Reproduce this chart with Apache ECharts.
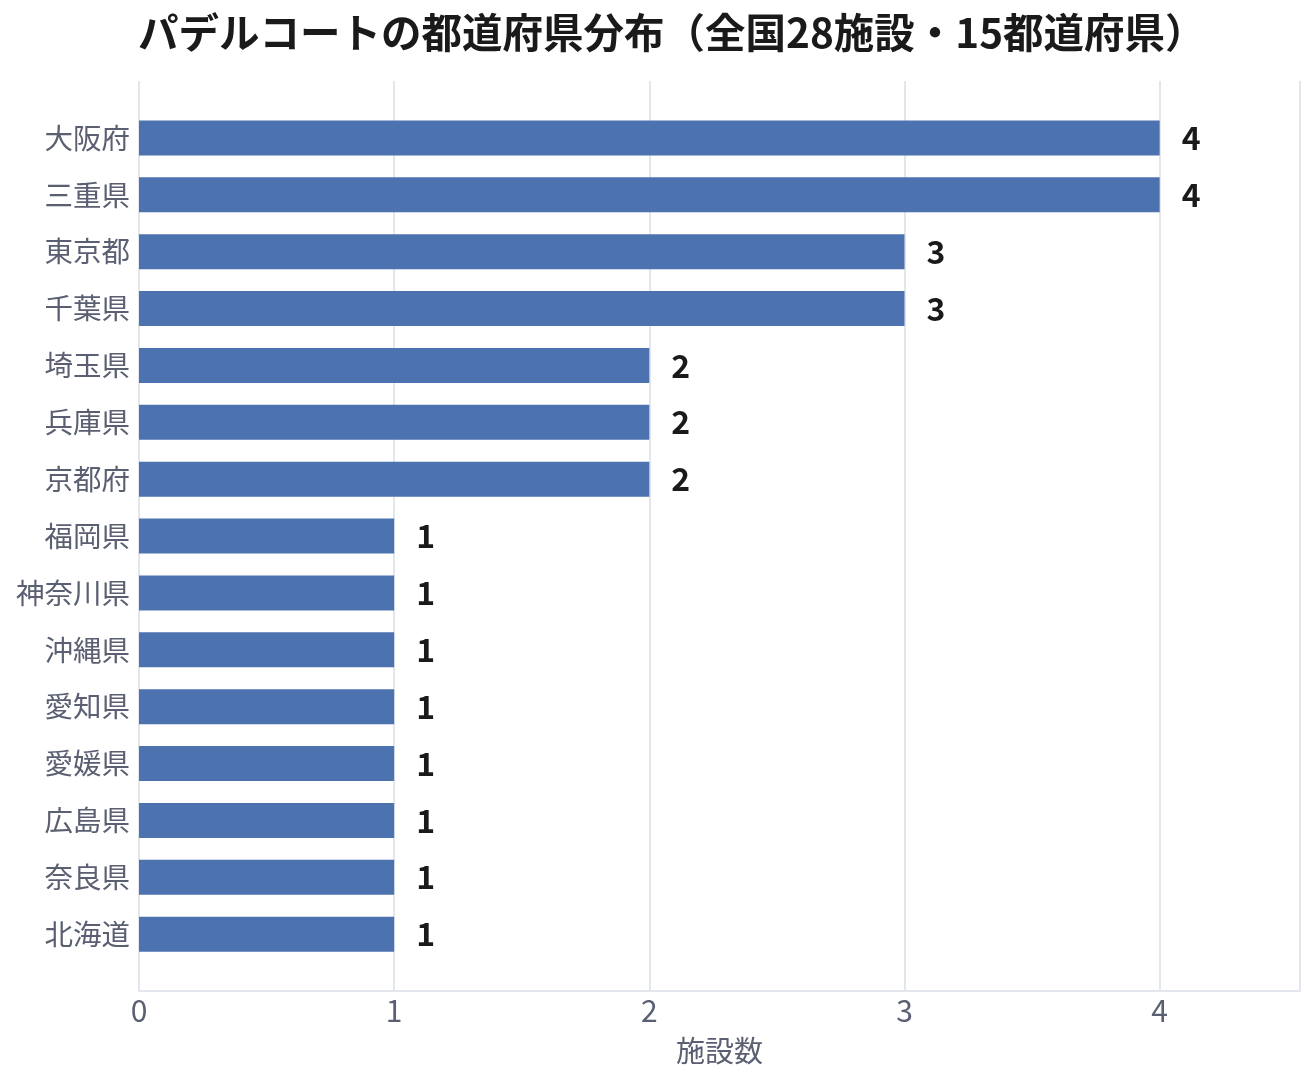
<!DOCTYPE html>
<html>
<head>
<meta charset="UTF-8">
<title>パデルコートの都道府県分布</title>
<script src="https://cdn.jsdelivr.net/npm/echarts@6/dist/echarts.min.js"></script>
<style>
  html, body { margin: 0; padding: 0; background: #fff; }
  #main { width: 1316px; height: 1084px; }
</style>
</head>
<body>
<div id="main"></div>
<script>
// data (top to bottom)
var prefectures = ['大阪府', '三重県', '東京都', '千葉県', '埼玉県', '兵庫県', '京都府',
  '福岡県', '神奈川県', '沖縄県', '愛知県', '愛媛県', '広島県', '奈良県', '北海道'];
var counts = [4, 4, 3, 3, 2, 2, 2, 1, 1, 1, 1, 1, 1, 1, 1];
var xTicks = [0, 1, 2, 3, 4];

// empty slots at both ends give the padding above the first bar and below the last
var yCats = [''].concat(prefectures, ['']);
var yVals = ['-'].concat(counts, ['-']);

var font = '"Noto Sans CJK JP", "Noto Sans", sans-serif';
var chart = echarts.init(document.getElementById('main'));

chart.setOption({
  animation: false,
  title: {
    text: 'パデルコートの都道府県分布（全国28施設・15都道府県）',
    left: 133,
    top: 7,
    textStyle: { fontFamily: font, fontSize: 40.5, fontWeight: 'bold', color: '#1a1a1a' }
  },
  grid: { left: 139, right: 16, top: 81, bottom: 93 },
  xAxis: {
    type: 'value',
    min: 0,
    max: 4.55,
    interval: 1,
    name: '施設数',
    nameLocation: 'middle',
    nameGap: 45,
    nameTextStyle: { fontFamily: font, fontSize: 29, color: '#5a6072' },
    axisLine: { show: true, lineStyle: { color: '#e3e6ec', width: 2 } },
    axisTick: { show: false },
    axisLabel: {
      fontFamily: font, fontSize: 30, color: '#5a6072', margin: 5,
      showMaxLabel: false,
      formatter: function (v) { return xTicks.indexOf(v) >= 0 ? String(v) : ''; }
    },
    splitLine: { show: true, lineStyle: { color: '#e3e6ec', width: 2 } }
  },
  yAxis: {
    type: 'category',
    data: yCats,
    inverse: true,
    boundaryGap: false,
    axisLine: { show: false },
    axisTick: { show: false },
    splitLine: { show: false },
    axisLabel: { fontFamily: font, fontSize: 28.5, color: '#5a6072', margin: 9 }
  },
  series: [{
    type: 'bar',
    data: yVals,
    barWidth: 35,
    itemStyle: { color: '#4c72b0' },
    label: {
      show: true,
      position: 'right',
      distance: 22,
      fontFamily: font,
      fontSize: 32,
      fontWeight: 'bold',
      color: '#1a1a1a'
    }
  }]
});
</script>
</body>
</html>
